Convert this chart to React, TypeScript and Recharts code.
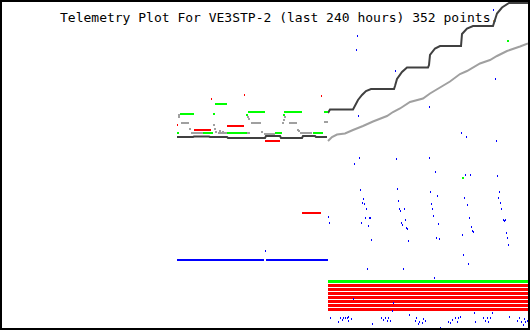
import { ComposedChart, Line, Scatter, XAxis, YAxis } from 'recharts';

// x = time slot across the plot window, y = scaled reading (0 = bottom)
type Pt = [number, number];

const title = 'Telemetry Plot For VE3STP-2 (last 240 hours) 352 points.';

const darkSegs: Pt[][] = [
  [[177, 191], [193, 191], [194, 191.5], [209, 191.5], [210, 191], [227, 191], [228, 190], [265, 190],
   [266, 192], [280, 192], [281, 190], [302, 190], [303, 192], [315, 192], [316, 191], [327, 191]],
  [[328, 215], [330, 218.5], [353, 218.5], [358, 228], [362, 233], [366, 237], [371, 239], [394, 239],
   [395, 242], [397, 249], [402, 256], [407, 260.5], [428, 260.5], [429, 263], [430, 273], [435, 279.5],
   [440, 282], [461, 282], [462, 294], [467, 299.5], [473, 302], [493, 302], [497, 314.5], [502, 320.5],
   [509, 325], [528, 325]],
];

const graySegs: Pt[][] = [
  [[191, 195], [213, 195]],
  [[218, 195], [250, 195]],
  [[264, 194], [275, 194]],
  [[300, 195], [312, 195]],
  [[324, 206], [328, 206]],
  [[328, 187], [332, 191], [337, 193.5], [345, 194.5], [353, 198], [363, 202], [373, 206.5], [387, 212],
   [393, 216], [400, 219.5], [410, 226], [423, 229.5], [430, 234.5], [440, 240.5], [450, 246.5],
   [460, 254], [467, 257], [480, 264.5], [490, 268], [497, 272], [507, 277], [520, 281.5], [528, 284.5]],
];

const grayDots: Pt[] = [
  [179, 213], [179, 211], [182, 205], [184, 205], [186, 205], [188, 205], [190, 199],
  [214, 203], [215, 199], [216, 196], [220, 197], [223, 196],
  [248, 211], [249, 209], [252, 205], [254, 205], [256, 205], [258, 205], [260, 205], [262, 196],
  [285, 211], [284, 208], [283, 205], [290, 205], [292, 205], [294, 205], [296, 205], [298, 198], [299, 197],
];

const greenSegs: Pt[][] = [
  [[180, 214], [194, 214]],
  [[215, 224], [227, 224]],
  [[248, 216], [265, 216]],
  [[284, 216], [302, 216]],
  [[324, 216], [328, 216]],
  [[177, 195], [179, 195]],
  [[203, 195], [213, 195]],
  [[227, 195], [247, 195]],
  [[275, 195], [282, 195]],
  [[313, 195], [323, 195]],
];

const greenDots: Pt[] = [[214, 214], [247, 213], [284, 213], [508, 287], [463, 150]];

const redSegs: Pt[][] = [
  [[194, 198], [211, 198]],
  [[227, 202], [244, 202]],
  [[265, 187], [280, 187]],
  [[302, 115], [321, 115]],
];

const redDots: Pt[] = [[177, 203], [211, 229], [244, 233], [321, 232]];

// status flag rows on the right half
const flagSpan: [number, number] = [328, 528];
const greenFlag = 46.5;
const redFlags = [42.5, 38.5, 34.5, 30.5, 26.5, 22.5, 18.5];

const blueSegs: Pt[][] = [
  [[177, 68], [264, 68]],
  [[266, 68], [328, 68]],
];

const blueDots: Pt[] = [
  [265, 77],
  [493, 318], [357, 292], [356, 278], [395, 257], [429, 221], [358, 212], [495, 249], [461, 195],
  [466, 191], [496, 187], [359, 170], [396, 169], [429, 170],
  [354, 164], [435, 156], [465, 153], [470, 153], [497, 152],
  [360, 138], [397, 139], [430, 136], [437, 132], [464, 130], [499, 136], [498, 130],
  [363, 129], [362, 125], [364, 124], [366, 119], [398, 127], [399, 119], [400, 117], [404, 119],
  [431, 124], [432, 119], [467, 123], [500, 125], [501, 119],
  [328, 111], [329, 105], [365, 110], [369, 110], [370, 110], [361, 105], [368, 102], [405, 108],
  [401, 105], [402, 103], [406, 100], [407, 99], [433, 112], [438, 104], [469, 110], [471, 101],
  [472, 97], [473, 96], [462, 93], [503, 108], [504, 107], [505, 108], [506, 95], [507, 90], [508, 83],
  [371, 88], [408, 87], [436, 90], [439, 89],
  [463, 73], [468, 64], [367, 59], [403, 59],
  [434, 50], [353, 29], [393, 25], [392, 17], [409, 13], [474, 15], [492, 15], [509, 11],
  [330, 10], [338, 6], [340, 10], [342, 8], [343, 10], [345, 10], [347, 10], [348, 11], [348, 7],
  [351, 9], [372, 4], [381, 10], [383, 8], [385, 10], [387, 7], [388, 10], [390, 7],
  [416, 10], [415, 7], [418, 4], [419, 6], [422, 5], [423, 9], [425, 7], [440, 0],
  [448, 6], [450, 5], [452, 8], [455, 10], [457, 6], [458, 10], [460, 11],
  [475, 6], [483, 10], [485, 7], [487, 10], [488, 6], [490, 10],
  [517, 7], [519, 10], [521, 6], [523, 3], [524, 9], [525, 6], [527, 7], [528, 8],
];

// join segments into one series, with a null gap between them
const toLine = (segs: Pt[][]) =>
  segs.flatMap(s => [
    ...s.map(([x, y]) => ({ x, y })),
    { x: s[s.length - 1][0], y: null as number | null },
  ]);
const toDots = (pts: Pt[]) => pts.map(([x, y]) => ({ x, y }));

const flagLine = (levels: number[]) =>
  toLine(levels.map(y => [[flagSpan[0], y], [flagSpan[1], y]] as Pt[]));

const box = (fill: string, w: number, h: number) => (p: any) => (
  <rect
    x={p.cx - w / 2}
    y={p.cy - h / 2}
    width={w}
    height={h}
    fill={fill}
    shapeRendering="crispEdges"
  />
);

const lineProps = {
  dataKey: 'y',
  dot: false,
  activeDot: false,
  isAnimationActive: false,
  connectNulls: false,
  type: 'linear' as const,
};

export default function App() {
  return (
    <div
      style={{
        position: 'absolute', left: 0, top: 0, width: 530, height: 330,
        boxSizing: 'border-box', border: '2px solid #000', background: '#fff',
      }}
    >
      <div
        style={{
          position: 'absolute', left: 58, top: 8, whiteSpace: 'pre',
          fontFamily: '"DejaVu Sans Mono", monospace', fontSize: 13, lineHeight: '15px', color: '#000',
        }}
      >
        {title}
      </div>
      <div style={{ position: 'absolute', left: 0, top: 0 }}>
        <ComposedChart width={526} height={326} margin={{ top: 0, right: 0, bottom: 0, left: 0 }}>
          <XAxis dataKey="x" type="number" domain={[2, 528]} allowDataOverflow hide />
          <YAxis dataKey="y" type="number" domain={[0, 326]} allowDataOverflow hide />

          <Scatter data={toDots(grayDots)} shape={box('#a0a0a0', 2, 2)} isAnimationActive={false} />
          <Line {...lineProps} data={toLine(graySegs)} stroke="#a0a0a0" strokeWidth={2} />
          <Line {...lineProps} data={toLine(darkSegs)} stroke="#404040" strokeWidth={2} />
          <Line {...lineProps} data={toLine(greenSegs)} stroke="#00ff00" strokeWidth={2} />
          <Scatter data={toDots(greenDots)} shape={box('#00ff00', 2, 2)} isAnimationActive={false} />
          <Line {...lineProps} data={toLine(redSegs)} stroke="#ff0000" strokeWidth={2} />
          <Scatter data={toDots(redDots)} shape={box('#ff0000', 1, 2)} isAnimationActive={false} />
          <Line {...lineProps} data={flagLine([greenFlag])} stroke="#00ff00" strokeWidth={3} />
          <Line {...lineProps} data={flagLine(redFlags)} stroke="#ff0000" strokeWidth={3} />
          <Line {...lineProps} data={toLine(blueSegs)} stroke="#0000ff" strokeWidth={2} />
          <Scatter data={toDots(blueDots)} shape={box('#0000ff', 1, 2)} isAnimationActive={false} />
        </ComposedChart>
      </div>
    </div>
  );
}
